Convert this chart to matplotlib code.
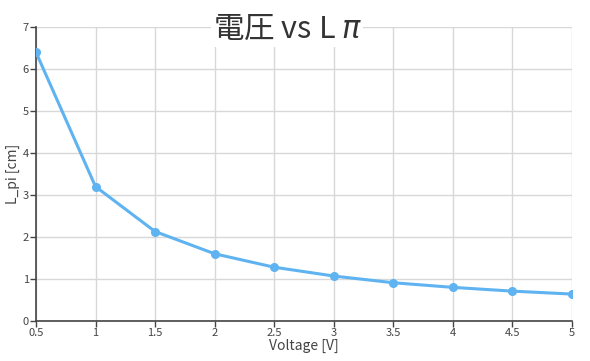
import matplotlib
matplotlib.use('Agg')
import matplotlib.pyplot as plt

plt.rcParams['font.family'] = ['Noto Sans CJK JP', 'DejaVu Sans']

voltage = [0.5, 1.0, 1.5, 2.0, 2.5, 3.0, 3.5, 4.0, 4.5, 5.0]
l_pi = [6.4, 3.2, 2.13, 1.6, 1.28, 1.07, 0.91, 0.8, 0.71, 0.64]
x_ticks = [0.5, 1, 1.5, 2, 2.5, 3, 3.5, 4, 4.5, 5]
x_labels = ['0.5', '1', '1.5', '2', '2.5', '3', '3.5', '4', '4.5', '5']
y_ticks = [0, 1, 2, 3, 4, 5, 6, 7]

LINE = '#5fb3f0'
AXIS = '#444444'

fig = plt.figure(figsize=(5.9, 3.61), dpi=100)
ax = fig.add_axes([0.061, 0.111, 0.908, 0.814])

ax.plot(voltage, l_pi, color=LINE, lw=2.2, marker='o', ms=5.5,
        markerfacecolor=LINE, markeredgecolor=LINE, zorder=3)

ax.set_xlim(0.5, 5)
ax.set_ylim(0, 7)
ax.set_xticks(x_ticks)
ax.set_xticklabels(x_labels)
ax.set_yticks(y_ticks)
ax.grid(True, color='#d8d8d8', lw=1)
ax.set_axisbelow(True)

for s in ('top', 'right'):
    ax.spines[s].set_visible(False)
for s in ('left', 'bottom'):
    ax.spines[s].set_color(AXIS)
    ax.spines[s].set_linewidth(1.2)
ax.tick_params(colors=AXIS, labelsize=8, length=4, width=1, pad=1)

ax.set_xlabel('Voltage [V]', fontsize=10, color=AXIS, labelpad=1)
ax.set_ylabel('L_pi [cm]', fontsize=10, color=AXIS, labelpad=2)

fig.text(0.487, 0.918, '電圧 vs L $\\pi$', fontsize=22, color='#333333',
         ha='center', va='center',
         bbox=dict(facecolor='white', edgecolor='none', pad=1))

fig.savefig('out.png', dpi=100)
